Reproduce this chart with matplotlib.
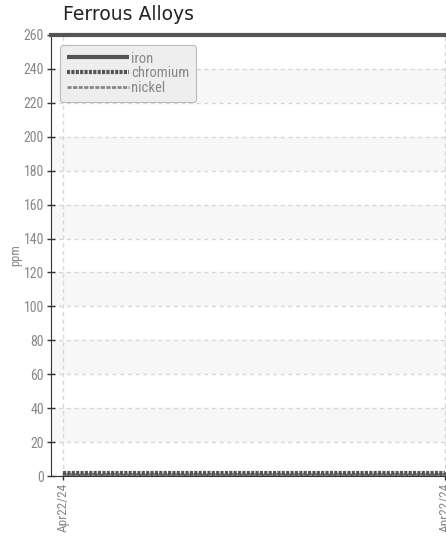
import matplotlib
matplotlib.use("Agg")
import matplotlib.pyplot as plt

dates = ["Apr22/24", "Apr22/24"]
iron = [0, 0]
chromium = [2, 2]
nickel = [1, 1]
yticks = list(range(0, 261, 20))

COND = ['Roboto Condensed', 'Archivo Narrow', 'DejaVu Sans']

fig = plt.figure(figsize=(4.46, 5.40), dpi=100)
W, H = 446, 540
ax = fig.add_axes([51 / W, 1 - 476 / H, 1 - 51 / W, (476 - 35) / H])

x = list(range(len(dates)))
ax.set_xlim(-12 / 382, 1 + 1 / 382)
ax.set_ylim(0, 260)

# alternating bands
for i, lo in enumerate(range(0, 260, 20)):
    if i % 2 == 1:
        ax.axhspan(lo, lo + 20, color='#f7f7f7', zorder=0, lw=0)

ax.grid(True, color='#d8d8d8', linestyle=(0, (3, 2.5)), linewidth=1)
ax.set_axisbelow(True)

ax.plot(x, iron, color='#555555', lw=3, solid_capstyle='butt', label='iron', zorder=3)
ax.plot(x, nickel, color='#888888', lw=2, linestyle=(0, (1.5, 0.5)), label='nickel', zorder=3)
ax.plot(x, chromium, color='#555555', lw=3, linestyle=(0, (0.75, 0.3)), label='chromium', zorder=4)

h, l = ax.get_legend_handles_labels()
order = [0, 2, 1]
leg = ax.legend([h[i] for i in order], [l[i] for i in order], loc='upper left',
                bbox_to_anchor=(9 / 395, 1 - 10 / 441), borderaxespad=0,
                frameon=True, fancybox=True,
                facecolor='#eeeeee', edgecolor='#bbbbbb', framealpha=1,
                handlelength=4.3, handletextpad=0.12, labelspacing=0.05,
                borderpad=0.45, prop={'family': COND, 'size': 10.5}, labelcolor='#888888')
leg.get_frame().set_linewidth(0.8)

ax.set_xticks(x)
ax.set_xticklabels(dates, rotation=90, family=COND, fontsize=9.5, color='#888888')
ax.set_yticks(yticks)
ax.set_yticklabels([str(v) for v in yticks], family=COND, fontsize=10, color='#888888')
ax.tick_params(axis='both', direction='inout', length=6, width=1, color='#333333', pad=2)

ax.spines['right'].set_visible(False)
ax.spines['top'].set_color('#555555')
ax.spines['top'].set_linewidth(3)
ax.spines['left'].set_color('#333333')
ax.spines['bottom'].set_color('#333333')

ax.set_ylabel('ppm', family=COND, fontsize=9, color='#888888', labelpad=1)

fig.text(63 / W, 1 - 15 / H, 'Ferrous Alloys', fontsize=13.5, color='#222222',
         ha='left', va='center', family='DejaVu Sans')

fig.savefig('out.png', dpi=100)
